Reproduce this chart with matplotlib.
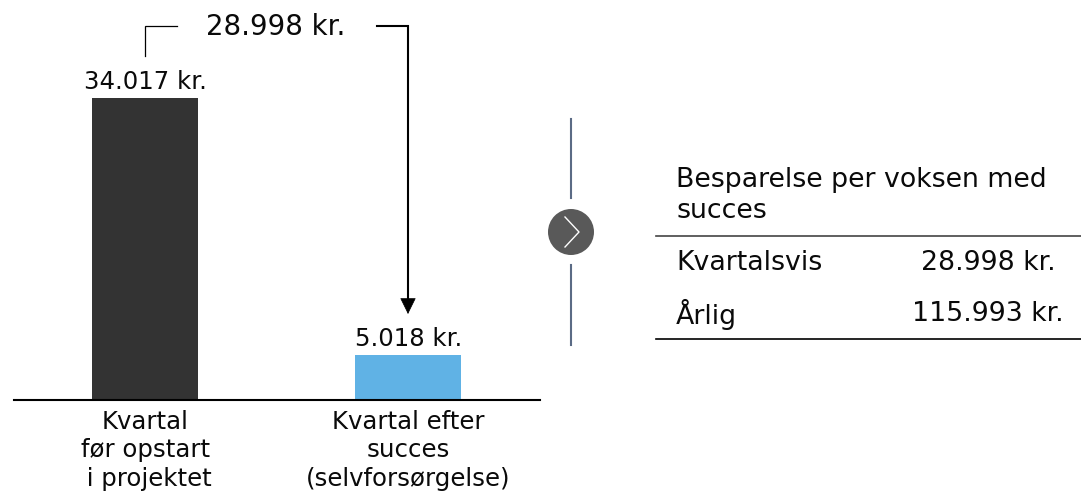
import matplotlib
matplotlib.use("Agg")
import matplotlib.pyplot as plt
from matplotlib.patches import Circle

W, H = 1081, 494

categories = ["Kvartal\nfør opstart\n i projektet", "Kvartal efter\nsucces\n(selvforsørgelse)"]
values = [34017, 5018]
value_labels = ["34.017 kr.", "5.018 kr."]
bar_colors = ["#333333", "#60b2e5"]
difference_label = "28.998 kr."
table_title = "Besparelse per voksen med\nsucces"
table_rows = ["Kvartalsvis", "Årlig"]
table_values = ["28.998 kr.", "115.993 kr."]

plt.rcParams["font.family"] = "DejaVu Sans"
plt.rcParams["text.color"] = "#0a0a0a"
FS = 17.6
FS_TABLE = 19.3

fig = plt.figure(figsize=(W / 100, H / 100), dpi=100)

# bars, baseline at y=400px
ax = fig.add_axes([13.5 / W, (H - 400) / H, 526.5 / W, 302 / H])
ax.bar(range(2), values, width=0.403, color=bar_colors)
ax.set_xlim(-0.5, 1.5)
ax.set_ylim(0, values[0])
ax.patch.set_alpha(0)
for s in ["top", "left", "right"]:
    ax.spines[s].set_visible(False)
ax.spines["bottom"].set_linewidth(1.5)
ax.spines["bottom"].set_color("black")
ax.set_yticks([])
ax.set_xticks(range(2))
ax.set_xticklabels(categories, fontsize=FS, linespacing=1.25, color="#0a0a0a")
ax.tick_params(axis="x", length=0, pad=7)
for i, (v, lab) in enumerate(zip(values, value_labels)):
    ax.annotate(lab, (i, v), xytext=(0, 3), textcoords="offset points",
                ha="center", va="bottom", fontsize=FS, annotation_clip=False)

# everything else in pixel coordinates
ov = fig.add_axes([0, 0, 1, 1])
ov.set_xlim(0, W)
ov.set_ylim(H, 0)
ov.axis("off")
ov.patch.set_alpha(0)

ov.plot([145, 145, 177], [56, 26, 26], color="black", lw=0.9, solid_joinstyle="miter")
ov.plot([377, 408, 408], [26, 26, 300], color="black", lw=1.5, solid_joinstyle="miter")
ov.annotate("", xy=(408, 314), xytext=(408, 296),
            arrowprops=dict(arrowstyle="-|>,head_length=0.75,head_width=0.37", mutation_scale=14,
                            color="black", lw=0.5, shrinkA=0, shrinkB=0))
ov.text(276, 27, difference_label, ha="center", va="center", fontsize=19.9)

# divider with chevron
ov.plot([571, 571], [119, 198], color="#5b6b85", lw=1.5)
ov.plot([571, 571], [265, 345], color="#5b6b85", lw=1.5)
ov.add_patch(Circle((571, 232), 23, color="#595959", lw=0))
ov.plot([565, 579, 565], [217, 232, 247], color="white", lw=1)

# table
ov.text(676, 195, table_title, ha="left", va="center", fontsize=FS_TABLE, linespacing=1.25)
ov.plot([656, 1081], [236, 236], color="#444444", lw=1.2)
ov.plot([656, 1081], [339, 339], color="black", lw=1.2)
for y, row, val in zip([263, 314], table_rows, table_values):
    ov.text(676, y, row, ha="left", va="center", fontsize=FS_TABLE)
    ov.text(988, y, val, ha="center", va="center", fontsize=FS_TABLE)

fig.savefig("out.png", dpi=100)
